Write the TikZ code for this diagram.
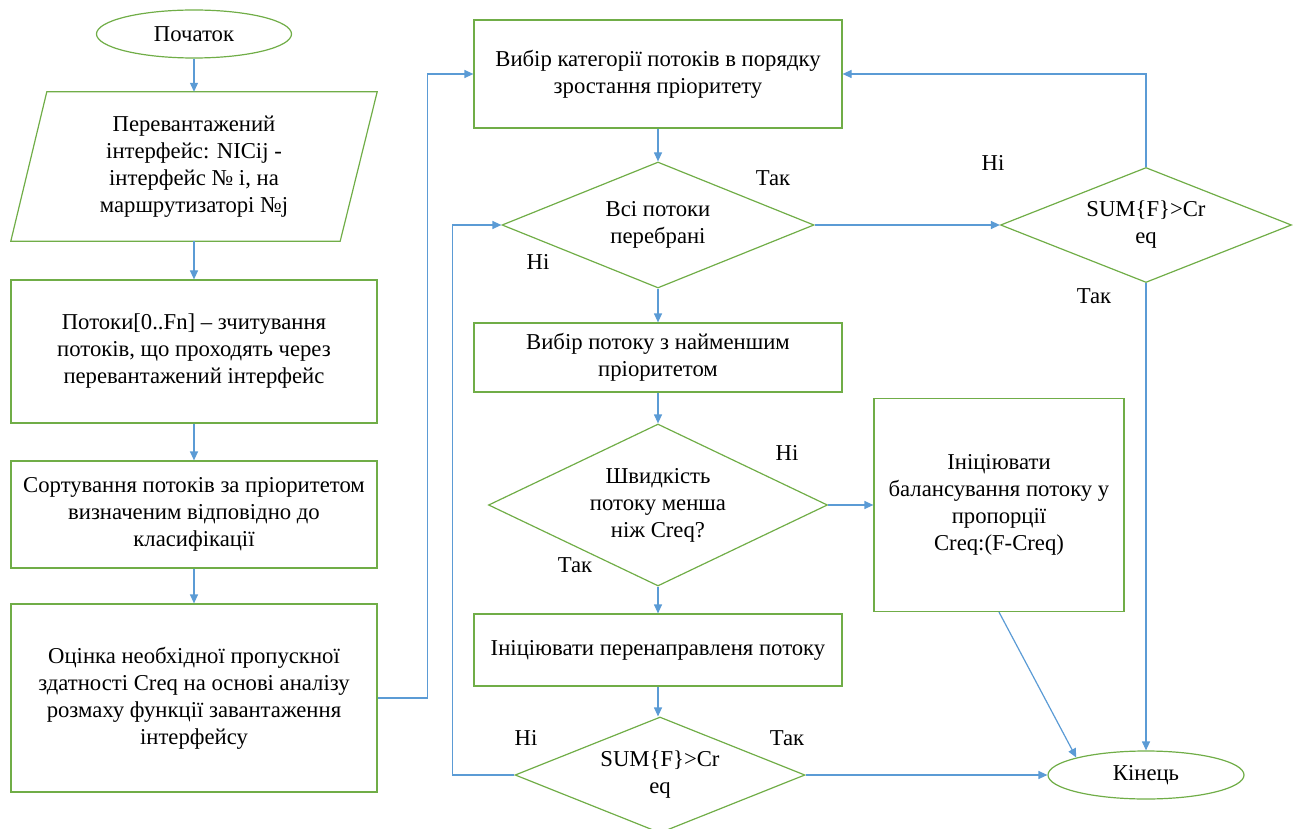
\documentclass[tikz,border=0pt]{standalone}
\usepackage{fontspec}
\IfFontExistsTF{LiberationSerif-Regular.ttf}
  {\setmainfont{LiberationSerif}[Extension=.ttf, UprightFont=*-Regular,
     BoldFont=*-Bold, ItalicFont=*-Italic, BoldItalicFont=*-BoldItalic]}
  {\setmainfont{Liberation Serif}}
\usetikzlibrary{shapes.geometric,arrows.meta,calc}
\definecolor{boxgreen}{HTML}{70AD47}
\definecolor{flowblue}{HTML}{5B9BD5}
\begin{document}
\begin{tikzpicture}[x=1pt,y=-1pt,
  every node/.style={font=\rmfamily\fontsize{22.7}{27}\selectfont, align=center, inner sep=0pt},
  proc/.style={draw=boxgreen, line width=1.2pt, rectangle},
  term/.style={draw=boxgreen, line width=1.2pt, ellipse},
  decide/.style={draw=boxgreen, line width=1.2pt, diamond},
  iobox/.style={boxgreen, line width=1.2pt, line join=miter},
  arr/.style={draw=flowblue, line width=1.2pt, -{Triangle[length=9pt,width=8pt]}}]
\useasboundingbox (0,0) rectangle (1299,829);

% left column
\node[term, minimum width=195pt, minimum height=48pt] (start) at (194,34) {Початок};
\node[minimum width=366pt, minimum height=149pt] (inp) at (194,166.5)
  {Перевантажений\\інтерфейс: NICij -\\інтерфейс № і, на\\маршрутизаторі №j};
\draw[iobox] ($(inp.north west)+(36,0)$) -- (inp.north east)
  -- ($(inp.south east)+(-37,0)$) -- (inp.south west) -- cycle;
\node[proc, minimum width=366pt, minimum height=143pt] (read) at (194,351.5)
  {Потоки[0..Fn] – зчитування\\потоків, що проходять через\\перевантажений інтерфейс};
\node[proc, minimum width=366pt, minimum height=107pt] (sort) at (194,514.5)
  {Сортування потоків за пріоритетом\\визначеним відповідно до\\класифікації};
\node[proc, minimum width=366pt, minimum height=188pt] (est) at (194,698)
  {Оцінка необхідної пропускної\\здатності Creq на основі аналізу\\розмаху функції завантаження\\інтерфейсу};

% middle column
\node[proc, minimum width=368pt, minimum height=108pt] (cat) at (658,74)
  {Вибір категорії потоків в порядку\\зростання пріоритету};
\node[decide, aspect=2.476, minimum width=312pt, minimum height=126pt] (d1) at (658,225)
  {Всі потоки\\перебрані};
\node[proc, minimum width=368pt, minimum height=69pt] (pick) at (658,357.5)
  {Вибір потоку з найменшим\\пріоритетом};
\node[decide, aspect=2.093, minimum width=339pt, minimum height=162pt] (d2) at (658,505)
  {Швидкість\\потоку менша\\ніж Creq?};
\node[proc, minimum width=368pt, minimum height=72pt] (redir) at (658,650)
  {Ініціювати перенаправленя потоку};
\node[decide, aspect=2.5, minimum width=290pt, minimum height=116pt] (d3) at (660,775)
  {SUM\{F\}>Cr\\eq};

% right column
\node[decide, aspect=2.53, minimum width=291pt, minimum height=115pt] (d4) at (1146,225)
  {SUM\{F\}>Cr\\eq};
\node[proc, minimum width=250pt, minimum height=213pt] (bal) at (999,505)
  {Ініціювати\\балансування потоку у\\пропорції\\Creq:(F-Creq)};
\node[term, minimum width=196pt, minimum height=48pt] (end) at (1146,775) {Кінець};

% branch labels
\node (t1) at (773,178) {Так};
\node (n1) at (538,262) {Ні};
\node (n2) at (787,453) {Ні};
\node (t2) at (575,565) {Так};
\node (n3) at (526,738) {Ні};
\node (t3) at (787,738) {Так};
\node (n4) at (993,163) {Ні};
\node (t4) at (1094,296) {Так};

% connectors
\draw[arr] (start) -- (inp);
\draw[arr] (inp) -- (read);
\draw[arr] (read) -- (sort);
\draw[arr] (sort) -- (est);
\draw[arr] (est.east) -- ++(50,0) |- (cat.west);
\draw[arr] (cat) -- (d1);
\draw[arr] (d1.east) -- (d4.west);
\draw[arr] (d4.north) |- (cat.east);
\draw[arr] (d4.south) -- (end.north);
\draw[arr] (d1) -- (pick);
\draw[arr] (pick) -- (d2);
\draw[arr] (d2.east) -- (bal.west);
\draw[arr] (d2) -- (redir);
\draw[arr] (redir.south) -- (redir.south |- d3.north);
\draw[arr] (d3.east) -- (end.west);
\draw[arr] (d3.west) -- ++(-62,0) |- (d1.west);
\draw[arr] (bal.south) -- (end.north west);
\end{tikzpicture}
\end{document}
